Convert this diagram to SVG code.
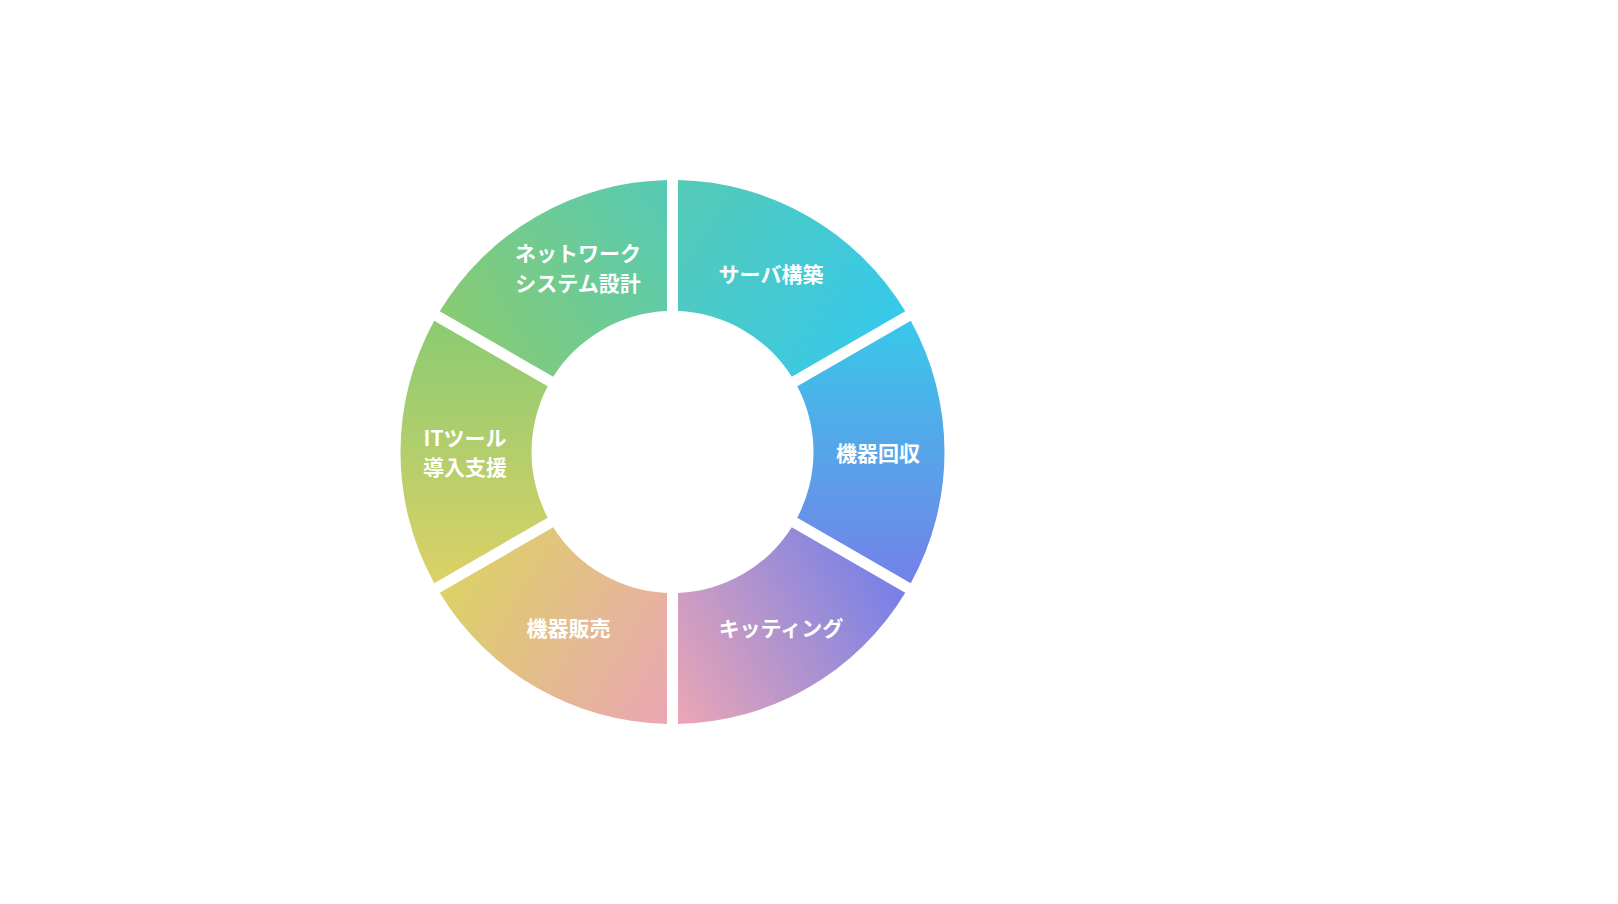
<svg xmlns="http://www.w3.org/2000/svg" width="1618" height="904" viewBox="0 0 1618 904">
<defs>
<linearGradient id="g1" gradientUnits="userSpaceOnUse" x1="678" y1="180" x2="905" y2="311"><stop offset="0" stop-color="#55CAB5"/><stop offset="1" stop-color="#36C9EB"/></linearGradient>
<linearGradient id="g2" gradientUnits="userSpaceOnUse" x1="911" y1="321" x2="911" y2="583"><stop offset="0" stop-color="#38C8EA"/><stop offset="1" stop-color="#7481E8"/></linearGradient>
<linearGradient id="g3" gradientUnits="userSpaceOnUse" x1="905" y1="593" x2="678" y2="724"><stop offset="0" stop-color="#7680E8"/><stop offset="1" stop-color="#ECA6B4"/></linearGradient>
<linearGradient id="g4" gradientUnits="userSpaceOnUse" x1="667" y1="724" x2="440" y2="593"><stop offset="0" stop-color="#EBA6B4"/><stop offset="1" stop-color="#DCD166"/></linearGradient>
<linearGradient id="g5" gradientUnits="userSpaceOnUse" x1="434" y1="583" x2="434" y2="321"><stop offset="0" stop-color="#DCD166"/><stop offset="1" stop-color="#8ACB72"/></linearGradient>
<linearGradient id="g6" gradientUnits="userSpaceOnUse" x1="440" y1="311" x2="667" y2="180"><stop offset="0" stop-color="#88CB72"/><stop offset="1" stop-color="#55CAB5"/></linearGradient>
</defs>
<style>
.lbl{font-family:"Noto Sans CJK JP","Noto Sans",sans-serif;font-size:21px;font-weight:700;fill:#FFFFFF;text-anchor:middle}
</style>
<rect width="1618" height="904" fill="#FFFFFF"/>
<g id="server">
<path d="M678,180.06 A272,272 0 0 1 905.26,311.27 L791.77,376.79 A141,141 0 0 0 678,311.11 Z" fill="url(#g1)"/>
<text class="lbl" x="771" y="281.5">サーバ構築</text>
</g>
<g id="recovery">
<path d="M910.76,320.79 A272,272 0 0 1 910.76,583.21 L797.27,517.68 A141,141 0 0 0 797.27,386.32 Z" fill="url(#g2)"/>
<text class="lbl" x="878" y="460.5">機器回収</text>
</g>
<g id="kitting">
<path d="M905.26,592.74 A272,272 0 0 1 678,723.94 L678,592.89 A141,141 0 0 0 791.77,527.21 Z" fill="url(#g3)"/>
<text class="lbl" x="781" y="635.5">キッティング</text>
</g>
<g id="sales">
<path d="M667,723.94 A272,272 0 0 1 439.74,592.74 L553.23,527.21 A141,141 0 0 0 667,592.89 Z" fill="url(#g4)"/>
<text class="lbl" x="568.5" y="635.5">機器販売</text>
</g>
<g id="ittool">
<path d="M434.24,583.21 A272,272 0 0 1 434.24,320.79 L547.73,386.32 A141,141 0 0 0 547.73,517.68 Z" fill="url(#g5)"/>
<text class="lbl" x="465" y="446">ITツール</text>
<text class="lbl" x="465" y="475">導入支援</text>
</g>
<g id="network">
<path d="M439.74,311.27 A272,272 0 0 1 667,180.06 L667,311.11 A141,141 0 0 0 553.23,376.79 Z" fill="url(#g6)"/>
<text class="lbl" x="578" y="261">ネットワーク</text>
<text class="lbl" x="578" y="291">システム設計</text>
</g>
<g id="connectors"/>
</svg>
